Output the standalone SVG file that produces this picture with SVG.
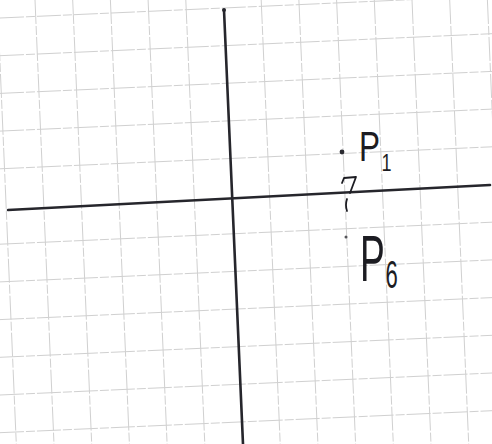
<svg xmlns="http://www.w3.org/2000/svg" width="492" height="444" viewBox="0 0 492 444">
<style>
.grid line{stroke:#d0d0d0;stroke-width:1;stroke-dasharray:24 2 9 2;fill:none}
.axis{stroke:#26262c;stroke-width:2.6;stroke-linecap:round;fill:none}
.lbl{font-family:"Liberation Sans","DejaVu Sans",sans-serif;fill:#1c1c22}
.ink{stroke:#1c1c22;stroke-width:1.8;fill:none;stroke-linecap:round;stroke-linejoin:round}
</style>
<rect width="492" height="444" fill="#ffffff"/>
<g id="grid" class="grid">
<line x1="-2.7" y1="0" x2="16.3" y2="444"/>
<line x1="35" y1="0" x2="54" y2="444"/>
<line x1="72.7" y1="0" x2="91.7" y2="444"/>
<line x1="110.4" y1="0" x2="129.4" y2="444"/>
<line x1="148.1" y1="0" x2="167.1" y2="444"/>
<line x1="185.8" y1="0" x2="204.8" y2="444"/>
<line x1="261.2" y1="0" x2="280.2" y2="444"/>
<line x1="298.9" y1="0" x2="317.9" y2="444"/>
<line x1="336.6" y1="0" x2="355.6" y2="444"/>
<line x1="374.3" y1="0" x2="393.3" y2="444"/>
<line x1="412" y1="0" x2="431" y2="444"/>
<line x1="449.7" y1="0" x2="468.7" y2="444"/>
<line x1="487.4" y1="0" x2="506.4" y2="444"/>
<line x1="0" y1="18" x2="492" y2="-4"/>
<line x1="0" y1="55.7" x2="492" y2="33.7"/>
<line x1="0" y1="93.4" x2="492" y2="71.4"/>
<line x1="0" y1="131.1" x2="492" y2="109.1"/>
<line x1="0" y1="168.8" x2="492" y2="146.8"/>
<line x1="0" y1="244.2" x2="492" y2="222.2"/>
<line x1="0" y1="281.9" x2="492" y2="259.9"/>
<line x1="0" y1="319.6" x2="492" y2="297.6"/>
<line x1="0" y1="357.3" x2="492" y2="335.3"/>
<line x1="0" y1="395" x2="492" y2="373"/>
<line x1="0" y1="432.7" x2="492" y2="410.7"/>
<line x1="0" y1="470.4" x2="492" y2="448.4"/>
</g>
<g id="axes">
<line class="axis" x1="224" y1="10" x2="243" y2="444"/>
<circle cx="224" cy="10" r="2" fill="#26262c"/>
<line class="axis" x1="8" y1="210" x2="490" y2="185"/>
<path class="ink" d="M342 183 L344 178 L356 177 M356 177 L350 193 M347 199 Q345 205 347 211"/>
</g>
<g id="P1">
<circle cx="342" cy="152" r="2.4" fill="#2a2a30"/>
<text class="lbl" transform="translate(359,161) scale(0.75,1)" x="0" y="0" font-size="42">P<tspan x="30" y="10" font-size="24">1</tspan></text>
</g>
<g id="P6">
<circle cx="346" cy="237" r="1.5" fill="#55555a"/>
<text class="lbl" transform="translate(360,281) scale(0.58,1)" x="0" y="0" font-size="64">P<tspan x="44" y="7" font-size="38">6</tspan></text>
</g>
</svg>
